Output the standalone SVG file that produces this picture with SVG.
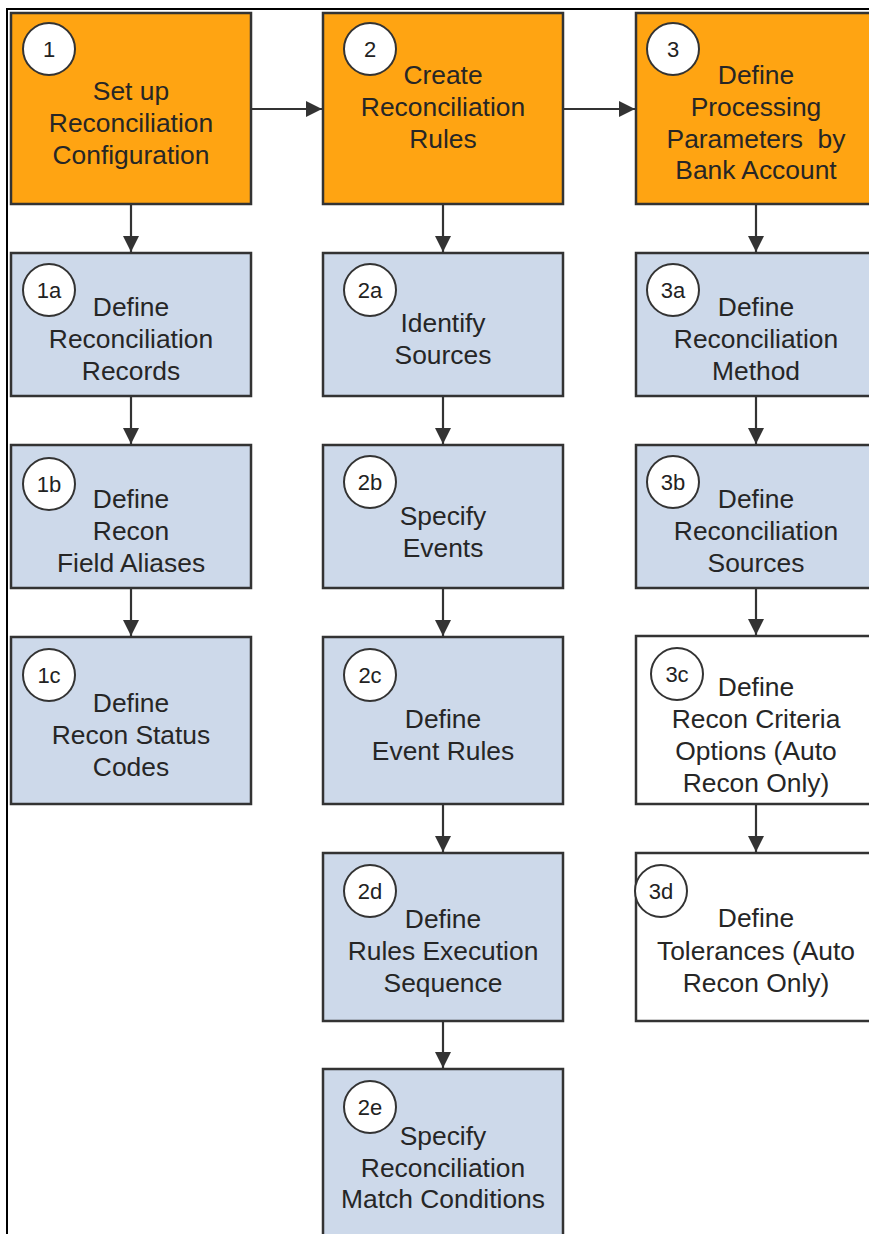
<svg xmlns="http://www.w3.org/2000/svg" width="869" height="1234" viewBox="0 0 869 1234">
  <style>
    .step { stroke: #333; stroke-width: 2.5; }
    .main { fill: #FFA412; }
    .sub { fill: #CDD9EA; }
    .opt { fill: #FFFFFF; }
    .badge { fill: #FFFFFF; stroke: #333; stroke-width: 2; }
    .num { font-family: "Liberation Sans", Arial, sans-serif; font-size: 22px; fill: #222; text-anchor: middle; }
    .lbl { font-family: "Liberation Sans", Arial, sans-serif; font-size: 26.4px; fill: #262626; text-anchor: middle; white-space: pre; }
    .conn { stroke: #333; stroke-width: 2.2; fill: none; marker-end: url(#head); }
  </style>
  <defs>
    <marker id="head" viewBox="0 0 10 10" refX="10" refY="5" markerUnits="userSpaceOnUse" markerWidth="18" markerHeight="16" orient="auto">
      <path d="M0,0 L10,5 L0,10 Z" fill="#333"/>
    </marker>
  </defs>

  <rect width="869" height="1234" fill="#FFFFFF"/>
  <!-- page frame -->
  <path d="M7,1234 V9 H869" fill="none" stroke="#000" stroke-width="2"/>

  <!-- connectors -->
  <g id="connectors">
    <line class="conn" x1="251" y1="109" x2="322" y2="109"/>
    <line class="conn" x1="563" y1="109" x2="635" y2="109"/>
    <line class="conn" x1="131" y1="204" x2="131" y2="252"/>
    <line class="conn" x1="131" y1="396" x2="131" y2="444"/>
    <line class="conn" x1="131" y1="588" x2="131" y2="636"/>
    <line class="conn" x1="443" y1="204" x2="443" y2="252"/>
    <line class="conn" x1="443" y1="396" x2="443" y2="444"/>
    <line class="conn" x1="443" y1="588" x2="443" y2="636"/>
    <line class="conn" x1="443" y1="804" x2="443" y2="852"/>
    <line class="conn" x1="443" y1="1021" x2="443" y2="1068"/>
    <line class="conn" x1="756" y1="204" x2="756" y2="252"/>
    <line class="conn" x1="756" y1="396" x2="756" y2="444"/>
    <line class="conn" x1="756" y1="588" x2="756" y2="635"/>
    <line class="conn" x1="756" y1="804" x2="756" y2="852"/>
  </g>

  <!-- column 1 -->
  <g id="step1">
    <rect class="step main" x="11" y="13" width="240" height="191"/>
    <circle class="badge" cx="49" cy="49" r="26"/>
    <text class="num" x="49" y="57">1</text>
    <text class="lbl" x="131" y="100">Set up</text>
    <text class="lbl" x="131" y="132">Reconciliation</text>
    <text class="lbl" x="131" y="164">Configuration</text>
  </g>
  <g id="step1a">
    <rect class="step sub" x="11" y="253" width="240" height="143"/>
    <circle class="badge" cx="49" cy="290" r="26"/>
    <text class="num" x="49" y="298">1a</text>
    <text class="lbl" x="131" y="316">Define</text>
    <text class="lbl" x="131" y="348">Reconciliation</text>
    <text class="lbl" x="131" y="380">Records</text>
  </g>
  <g id="step1b">
    <rect class="step sub" x="11" y="445" width="240" height="143"/>
    <circle class="badge" cx="49" cy="484" r="26"/>
    <text class="num" x="49" y="492">1b</text>
    <text class="lbl" x="131" y="508">Define</text>
    <text class="lbl" x="131" y="540">Recon</text>
    <text class="lbl" x="131" y="572">Field Aliases</text>
  </g>
  <g id="step1c">
    <rect class="step sub" x="11" y="637" width="240" height="167"/>
    <circle class="badge" cx="49" cy="675" r="26"/>
    <text class="num" x="49" y="683">1c</text>
    <text class="lbl" x="131" y="712">Define</text>
    <text class="lbl" x="131" y="744">Recon Status</text>
    <text class="lbl" x="131" y="776">Codes</text>
  </g>

  <!-- column 2 -->
  <g id="step2">
    <rect class="step main" x="323" y="13" width="240" height="191"/>
    <circle class="badge" cx="370" cy="49" r="26"/>
    <text class="num" x="370" y="57">2</text>
    <text class="lbl" x="443" y="84">Create</text>
    <text class="lbl" x="443" y="116">Reconciliation</text>
    <text class="lbl" x="443" y="148">Rules</text>
  </g>
  <g id="step2a">
    <rect class="step sub" x="323" y="253" width="240" height="143"/>
    <circle class="badge" cx="370" cy="290" r="26"/>
    <text class="num" x="370" y="298">2a</text>
    <text class="lbl" x="443" y="332">Identify</text>
    <text class="lbl" x="443" y="364">Sources</text>
  </g>
  <g id="step2b">
    <rect class="step sub" x="323" y="445" width="240" height="143"/>
    <circle class="badge" cx="370" cy="482" r="26"/>
    <text class="num" x="370" y="490">2b</text>
    <text class="lbl" x="443" y="525">Specify</text>
    <text class="lbl" x="443" y="557">Events</text>
  </g>
  <g id="step2c">
    <rect class="step sub" x="323" y="637" width="240" height="167"/>
    <circle class="badge" cx="370" cy="675" r="26"/>
    <text class="num" x="370" y="683">2c</text>
    <text class="lbl" x="443" y="728">Define</text>
    <text class="lbl" x="443" y="760">Event Rules</text>
  </g>
  <g id="step2d">
    <rect class="step sub" x="323" y="853" width="240" height="168"/>
    <circle class="badge" cx="370" cy="891" r="26"/>
    <text class="num" x="370" y="899">2d</text>
    <text class="lbl" x="443" y="928">Define</text>
    <text class="lbl" x="443" y="960">Rules Execution</text>
    <text class="lbl" x="443" y="992">Sequence</text>
  </g>
  <g id="step2e">
    <rect class="step sub" x="323" y="1069" width="240" height="175"/>
    <circle class="badge" cx="370" cy="1107" r="26"/>
    <text class="num" x="370" y="1115">2e</text>
    <text class="lbl" x="443" y="1145">Specify</text>
    <text class="lbl" x="443" y="1177">Reconciliation</text>
    <text class="lbl" x="443" y="1208">Match Conditions</text>
  </g>

  <!-- column 3 -->
  <g id="step3">
    <rect class="step main" x="636" y="13" width="240" height="191"/>
    <circle class="badge" cx="673" cy="49" r="26"/>
    <text class="num" x="673" y="57">3</text>
    <text class="lbl" x="756" y="84">Define</text>
    <text class="lbl" x="756" y="116">Processing</text>
    <text class="lbl" x="756" y="148" xml:space="preserve">Parameters  by</text>
    <text class="lbl" x="756" y="179">Bank Account</text>
  </g>
  <g id="step3a">
    <rect class="step sub" x="636" y="253" width="240" height="143"/>
    <circle class="badge" cx="673" cy="290" r="26"/>
    <text class="num" x="673" y="298">3a</text>
    <text class="lbl" x="756" y="316">Define</text>
    <text class="lbl" x="756" y="348">Reconciliation</text>
    <text class="lbl" x="756" y="380">Method</text>
  </g>
  <g id="step3b">
    <rect class="step sub" x="636" y="445" width="240" height="143"/>
    <circle class="badge" cx="673" cy="482" r="26"/>
    <text class="num" x="673" y="490">3b</text>
    <text class="lbl" x="756" y="508">Define</text>
    <text class="lbl" x="756" y="540">Reconciliation</text>
    <text class="lbl" x="756" y="572">Sources</text>
  </g>
  <g id="step3c">
    <rect class="step opt" x="636" y="636" width="240" height="168"/>
    <circle class="badge" cx="677" cy="674" r="26"/>
    <text class="num" x="677" y="682">3c</text>
    <text class="lbl" x="756" y="696">Define</text>
    <text class="lbl" x="756" y="728">Recon Criteria</text>
    <text class="lbl" x="756" y="760">Options (Auto</text>
    <text class="lbl" x="756" y="792">Recon Only)</text>
  </g>
  <g id="step3d">
    <rect class="step opt" x="636" y="853" width="240" height="168"/>
    <circle class="badge" cx="661" cy="891" r="26"/>
    <text class="num" x="661" y="899">3d</text>
    <text class="lbl" x="756" y="927">Define</text>
    <text class="lbl" x="756" y="960">Tolerances (Auto</text>
    <text class="lbl" x="756" y="992">Recon Only)</text>
  </g>
</svg>
